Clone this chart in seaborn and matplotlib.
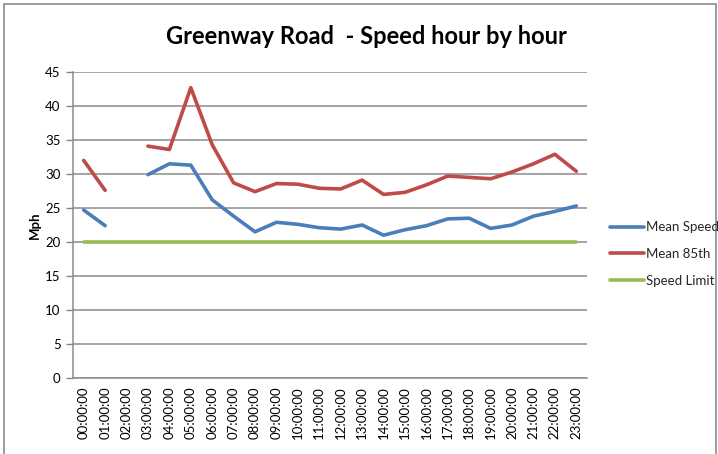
import numpy as np
import pandas as pd
import matplotlib
matplotlib.use("Agg")
import matplotlib.pyplot as plt
from matplotlib.patches import Rectangle
from matplotlib.lines import Line2D
import seaborn as sns

hours = [f"{h:02d}:00:00" for h in range(24)]
mean_speed = [24.7, 22.4, np.nan, 29.9, 31.5, 31.3, 26.2, 23.8, 21.5, 22.9, 22.6, 22.1,
              21.9, 22.5, 21.0, 21.8, 22.4, 23.4, 23.5, 22.0, 22.5, 23.8, 24.5, 25.3]
mean_85th = [32.0, 27.6, np.nan, 34.1, 33.6, 42.7, 34.3, 28.7, 27.4, 28.6, 28.5, 27.9,
             27.8, 29.1, 27.0, 27.3, 28.4, 29.7, 29.5, 29.3, 30.3, 31.5, 32.9, 30.4]
speed_limit = [20] * 24
series_names = ["Mean Speed", "Mean 85th", "Speed Limit"]
colors = ["#4A7EBB", "#BE4B48", "#98B954"]
yticks = [0, 5, 10, 15, 20, 25, 30, 35, 40, 45]

sns.set_theme(style="white")
plt.rcParams['font.family'] = ['Lato', 'DejaVu Sans']

rows = []
for name, vals in zip(series_names, [mean_speed, mean_85th, speed_limit]):
    seg = 0
    for i, v in enumerate(vals):
        if v is None or (isinstance(v, float) and np.isnan(v)):
            seg += 1
            continue
        rows.append({"hour": i, "value": v, "series": name, "seg": f"{name}-{seg}"})
df = pd.DataFrame(rows)

fig = plt.figure(figsize=(7.18, 4.54), dpi=100)
ax = fig.add_axes([73/718, 1-378/454, (587-73)/718, (378-72)/454])

sns.lineplot(data=df, x="hour", y="value", hue="series", units="seg", estimator=None,
             hue_order=series_names, palette=colors, linewidth=2.6, ax=ax, legend=False)

ax.set_xlim(-0.5, 23.5)
ax.set_ylim(0, 45)
ax.set_yticks(yticks)
ax.set_xticks(range(24))
ax.set_xticklabels(hours, rotation=90, fontsize=9.5, color="black")
ax.tick_params(axis="x", length=0, pad=6)
ax.tick_params(axis="y", length=5, width=1, color="#888888", labelsize=9.5, labelcolor="black", pad=4, left=True)
ax.yaxis.grid(True, color="#8c8c8c", linewidth=1.1)
ax.xaxis.grid(False)
for s in ["top", "right"]:
    ax.spines[s].set_visible(False)
for s in ["left", "bottom"]:
    ax.spines[s].set_color("#8c8c8c")
    ax.spines[s].set_linewidth(1.1)
ax.set_xlabel("")
ax.set_ylabel("Mph", fontsize=9.5, fontweight="bold", color="black", labelpad=3)
ax.set_zorder(1)

fig.text(366/718, 1-37/454, "Greenway Road  - Speed hour by hour", ha="center", va="center",
         fontsize=17, fontweight="bold", color="black")

handles = [Line2D([0], [0], color=c, linewidth=2.6) for c in colors]
fig.legend(handles, series_names, loc="center left", bbox_to_anchor=(598/718, 1-254/454),
           frameon=False, fontsize=9.5, handlelength=2.6, handletextpad=0.1, labelspacing=1.1)

fig.add_artist(Rectangle((4/718, -0.05), 712/718, 1.05 - 4/454, transform=fig.transFigure,
                         fill=False, edgecolor="#8c8c8c", linewidth=1.2))

fig.savefig("out.png", dpi=100)
